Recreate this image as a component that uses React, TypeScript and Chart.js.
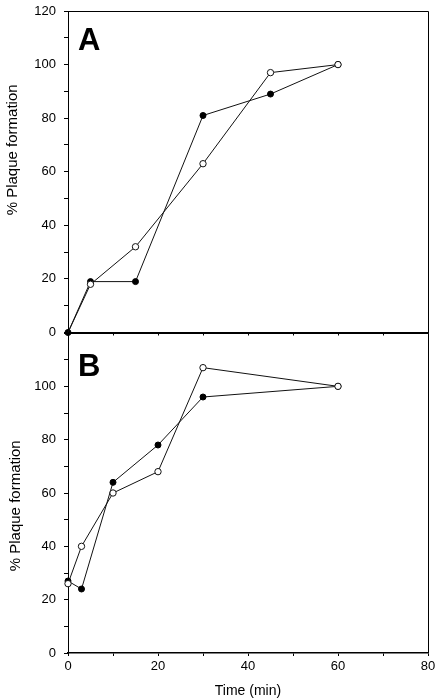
import React, { useEffect, useRef } from "react";
import { Chart, registerables } from "chart.js";

Chart.register(...registerables);

// Panel A data
const timeA = [0, 5, 15, 30, 45, 60];
const filledA = [0, 19, 19, 81, 89, 100];
const openA = [0, 18, 32, 63, 97, 100];

// Panel B data
const timeB = [0, 3, 10, 20, 30, 60];
const filledB = [27, 24, 64, 78, 96, 100];
const openB = [26, 40, 60, 68, 107, 100];

const yTitle = "% Plaque formation";
const xTitle = "Time (min)";

const FONT = "'Liberation Sans', Arial, Helvetica, sans-serif";

type PanelProps = {
  letter: string;
  times: number[];
  filled: number[];
  open: number[];
  showXLabels: boolean;
  top: number;
  height: number;
  padTop: number;
  xHeight: number;
  hideOpenFirst: boolean;
  maxYLabel: number;
  yTitleX: number;
  yTitleFrac: number;
  letterBaseline: number;
};

function Panel(p: PanelProps) {
  const ref = useRef<HTMLCanvasElement>(null);
  useEffect(() => {
    if (!ref.current) return;
    const decor = {
      id: "decor",
      afterDraw(chart: any) {
        const { ctx, chartArea } = chart;
        const { left, right, top, bottom } = chartArea;
        ctx.save();
        ctx.strokeStyle = "#000";
        ctx.lineWidth = 1;
        ctx.beginPath();
        ctx.moveTo(left, top + 0.5);
        ctx.lineTo(right + 0.5, top + 0.5);
        ctx.lineTo(right + 0.5, bottom);
        ctx.stroke();
        // panel letter
        ctx.fillStyle = "#000";
        ctx.font = `bold 31px ${FONT}`;
        ctx.textAlign = "left";
        ctx.textBaseline = "alphabetic";
        ctx.fillText(p.letter, left + 10, p.letterBaseline);
        // y title
        ctx.font = `15px ${FONT}`;
        ctx.translate(p.yTitleX, top + (bottom - top) * p.yTitleFrac);
        ctx.rotate(-Math.PI / 2);
        ctx.textAlign = "center";
        ctx.textBaseline = "middle";
        ctx.fillText(yTitle, 0, 0);
        ctx.restore();
      },
    };
    const chart = new Chart(ref.current, {
      type: "line",
      data: {
        datasets: [
          {
            label: "open",
            data: p.times.map((t, i) => ({ x: t, y: p.open[i] })),
            borderColor: "#111",
            borderWidth: 1,
            backgroundColor: "#fff",
            pointBackgroundColor: "#fff",
            pointBorderColor: "#111",
            pointBorderWidth: 1,
            pointRadius: (ctx: any) => (p.hideOpenFirst && ctx.dataIndex === 0 ? 0 : 3.2),
            tension: 0,
            clip: false as any,
          },
          {
            label: "filled",
            data: p.times.map((t, i) => ({ x: t, y: p.filled[i] })),
            borderColor: "#111",
            borderWidth: 1,
            backgroundColor: "#000",
            pointBackgroundColor: "#000",
            pointBorderColor: "#000",
            pointBorderWidth: 1,
            pointRadius: 3,
            tension: 0,
            clip: false as any,
          },
        ],
      },
      options: {
        responsive: false,
        animation: false,
        events: [],
        layout: { padding: { top: p.padTop, right: 10, left: 0, bottom: 0 } },
        plugins: { legend: { display: false }, tooltip: { enabled: false } },
        scales: {
          x: {
            type: "linear",
            min: 0,
            max: 80,
            ticks: {
              stepSize: 10,
              autoSkip: false,
              maxRotation: 0,
              padding: 3,
              color: "#000",
              font: { size: 13, family: FONT },
              callback: (v: any) => (p.showXLabels && Number(v) % 20 === 0 ? String(v) : ""),
            },
            grid: { display: true, drawOnChartArea: false, drawTicks: true, tickLength: 3, color: "#000" },
            border: { display: true, color: "#000", width: 1.5 },
            title: {
              display: p.showXLabels,
              text: xTitle,
              color: "#000",
              font: { size: 14, family: FONT },
              padding: { top: 0, bottom: 0 },
            },
            afterFit: (s: any) => {
              s.height = p.xHeight;
              s.paddingLeft = 0;
              s.paddingRight = 0;
            },
          },
          y: {
            type: "linear",
            min: 0,
            max: 120,
            ticks: {
              stepSize: 10,
              autoSkip: false,
              padding: 8,
              color: "#000",
              font: { size: 13, family: FONT },
              callback: (v: any) =>
                Number(v) % 20 === 0 && Number(v) <= p.maxYLabel ? String(v) : "",
            },
            grid: { display: true, drawOnChartArea: false, drawTicks: true, tickLength: 4, color: "#000" },
            border: { display: true, color: "#000", width: 1 },
            afterFit: (s: any) => {
              s.width = 68;
              s.paddingTop = 0;
              s.paddingBottom = 0;
            },
          },
        },
      } as any,
      plugins: [decor],
    });
    return () => chart.destroy();
  }, []);
  return (
    <canvas
      ref={ref}
      width={438}
      height={p.height}
      style={{ position: "absolute", left: 0, top: p.top, width: 438, height: p.height }}
    />
  );
}

export default function App() {
  return (
    <div
      style={{
        position: "fixed",
        left: 0,
        top: 0,
        width: 438,
        height: 698,
        background: "#fff",
        overflow: "hidden",
      }}
    >
      <Panel
        letter="B"
        times={timeB}
        filled={filledB}
        open={openB}
        showXLabels={true}
        top={320}
        height={380}
        padTop={13}
        xHeight={47}
        hideOpenFirst={false}
        maxYLabel={100}
        yTitleX={16}
        yTitleFrac={0.54}
        letterBaseline={56}
      />
      <Panel
        letter="A"
        times={timeA}
        filled={filledA}
        open={openA}
        showXLabels={false}
        top={0}
        height={345}
        padTop={11}
        xHeight={12.5}
        hideOpenFirst={true}
        maxYLabel={120}
        yTitleX={12.5}
        yTitleFrac={0.432}
        letterBaseline={50}
      />
    </div>
  );
}
